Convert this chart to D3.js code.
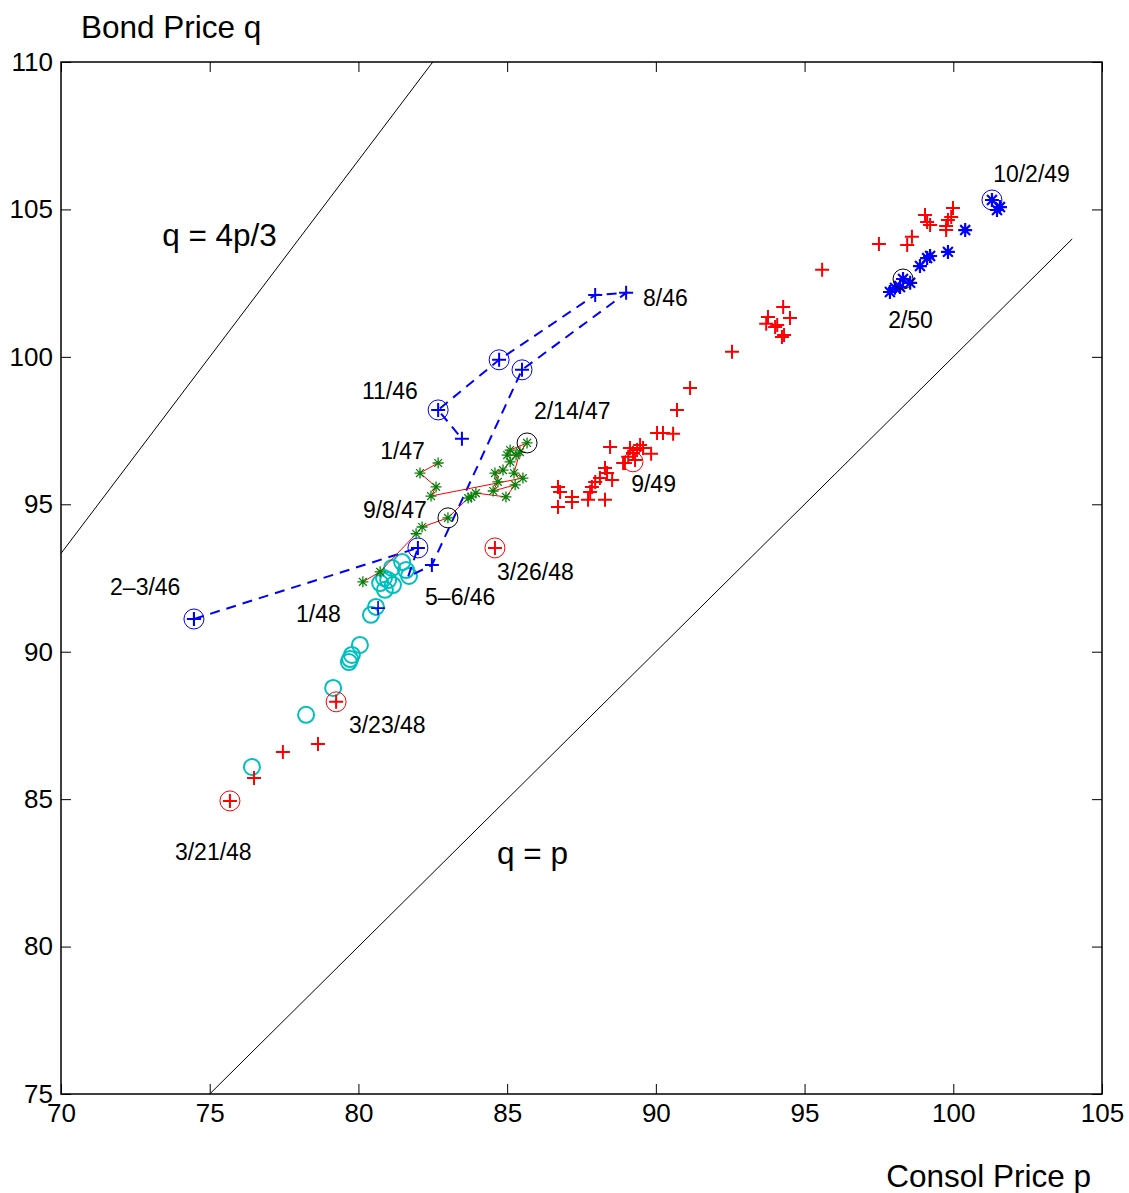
<!DOCTYPE html>
<html><head><meta charset="utf-8">
<script src="https://cdn.jsdelivr.net/npm/d3@7"></script>
<style>body{margin:0;background:#fff}text{font-family:"Liberation Sans",Arial,Helvetica,sans-serif}</style>
</head><body><svg id="c" width="1129" height="1193"></svg>
<script>
// ---- data (p = consol price, q = bond price) ----
const xTicks = [70,75,80,85,90,95,100,105];
const yTicks = [75,80,85,90,95,100,105,110];
// 1946: blue + with dashed line
const path1946 = [[74.47,91.11],[74.47,91.11],[82.00,93.52],[81.67,92.54],[82.47,92.94],[85.50,99.56],[89.00,102.17],[87.96,102.10],[84.73,99.90],[82.68,98.20],[83.48,97.22]];
const hidden1946 = [3]; // point obscured in the original (no visible marker)
const circled1946 = [[74.47,91.11],[82.00,93.52],[85.50,99.56],[84.73,99.90],[82.68,98.20]];
// 1947: green * with thin red line
const path1947 = [[82.68,96.40],[82.07,96.06],[82.61,95.59],[82.44,95.28],[85.53,95.89],[85.23,96.06],[85.43,96.77],[85.67,97.08],[85.10,96.84],[85.00,96.67],[85.30,96.67],[85.10,96.44],[84.86,96.16],[84.59,96.06],[84.69,95.76],[84.53,95.45],[85.27,95.66],[84.96,95.25],[83.95,95.38],[83.79,95.25],[83.69,95.21],[83.01,94.54],[82.14,94.23],[81.94,94.00],[80.73,92.71],[80.15,92.37]];
const circled1947 = [[85.67,97.08],[83.01,94.54]];
// 1948: cyan circles
const pts1948 = [[81.47,93.04],[81.13,92.84],[80.86,92.50],[80.73,92.33],[81.00,92.43],[80.89,92.10],[81.16,92.26],[81.60,92.77],[81.70,92.57],[80.59,91.52],[80.42,91.25],[80.05,90.23],[79.78,89.89],[79.72,89.75],[79.68,89.65],[79.15,88.77],[78.24,87.86],[76.42,86.09]];
const mark1948 = [[80.66,91.48]];
// 1948-49: red +
const redPlus = [[75.68,84.94],[76.49,85.72],[77.46,86.60],[78.64,86.87],[79.25,88.30],[84.59,93.52],
 [86.71,95.59],[86.78,95.42],[86.71,94.91],[87.18,95.25],[87.18,95.08],[87.72,95.15],[87.79,95.42],[87.85,95.59],[87.96,95.76],[88.12,95.89],[88.29,96.23],[88.36,96.06],[88.53,95.82],[88.29,95.15],
 [88.46,96.94],[88.96,96.40],[89.07,96.61],[89.23,96.74],[89.37,96.84],[89.13,96.91],[89.47,97.01],[89.57,96.91],[89.30,96.50],[89.84,96.71],[88.90,96.40],
 [90.04,97.42],[90.24,97.42],[90.58,97.39],[90.71,98.20],[91.15,98.94],[92.56,100.17],
 [93.71,101.12],[94.01,101.01],[94.08,101.08],[94.28,101.69],[94.31,100.74],[94.24,100.67],[94.51,101.32],[93.77,101.35],
 [95.59,102.95],[97.50,103.83],[98.45,103.79],[98.61,104.07],[99.05,104.81],[99.12,104.57],[99.22,104.47],[99.76,104.44],[99.82,104.64],[99.99,105.05],[99.93,104.74],[99.76,104.30]];
const circledRed = [[75.68,84.94],[79.25,88.30],[84.59,93.52],[89.23,96.44]];
// 1949-50: blue *
const blueStar = [[97.87,102.20],[98.04,102.34],[98.21,102.37],[98.31,102.64],[98.55,102.51],[98.88,103.08],[99.12,103.35],[99.22,103.42],[99.82,103.56],[100.40,104.30],[101.30,105.32],[101.47,104.98],[101.57,105.08]];
const circledBlueStar = [[101.30,105.32]];
const circledBlackStar = [[98.31,102.64]];
// reference lines
const lineQP = [[75,75],[104,104]];
const line43 = [[70,70*4/3],[82.5,110]];
// annotations [text, p, q]
const labels = [["10/2/49",101.34,105.93],["2/50",97.81,100.98],["8/46",89.57,101.73],["11/46",80.12,98.57],
 ["2/14/47",85.90,97.89],["1/47",80.73,96.54],["9/49",89.17,95.42],["9/8/47",80.15,94.54],["2\u20133/46",71.65,91.92],
 ["3/26/48",84.66,92.43],["5\u20136/46",82.24,91.59],["1/48",77.90,91.01],["3/23/48",79.68,87.24],["3/21/48",73.83,82.94]];
const bigLabels = [["q = 4p/3",73.40,103.76],["q = p",84.66,82.80]];

// ---- drawing ----
const svg = d3.select("#c");
const L=61,R=1102,T=62,B=1094;
const x = d3.scaleLinear().domain([70,105]).range([L,R]);
const y = d3.scaleLinear().domain([75,110]).range([B,T]);
const line = d3.line().x(d=>x(d[0])).y(d=>y(d[1]));

function axisStyle(g){ g.select(".domain").remove(); g.selectAll("line").attr("stroke","#000").attr("stroke-width",1);
  g.selectAll("text").attr("font-size",26).attr("fill","#000").attr("font-family","Liberation Sans, Arial, sans-serif"); }
svg.append("g").attr("transform",`translate(0,${B})`).call(d3.axisBottom(x).tickValues(xTicks).tickSize(-10).tickPadding(10).tickSizeOuter(0)).call(axisStyle);
svg.append("g").attr("transform",`translate(${L},0)`).call(d3.axisLeft(y).tickValues(yTicks).tickSize(-10).tickPadding(8).tickSizeOuter(0)).call(axisStyle);
svg.append("g").attr("transform",`translate(0,${T})`).call(d3.axisTop(x).tickValues(xTicks).tickSize(-10).tickFormat("").tickSizeOuter(0)).call(axisStyle);
svg.append("g").attr("transform",`translate(${R},0)`).call(d3.axisRight(y).tickValues(yTicks).tickSize(-10).tickFormat("").tickSizeOuter(0)).call(axisStyle);
svg.append("rect").attr("x",L).attr("y",T).attr("width",R-L).attr("height",B-T).attr("fill","none").attr("stroke","#000").attr("stroke-width",1.5);

svg.append("path").attr("d",line(lineQP)).attr("stroke","#000").attr("stroke-width",1).attr("fill","none");
svg.append("path").attr("d",line(line43)).attr("stroke","#000").attr("stroke-width",1).attr("fill","none");

const g = svg.append("g");
function plus(data,h,color,w){
  data.forEach(d=>{const cx=x(d[0]),cy=y(d[1]);
    g.append("path").attr("d",`M${cx-h},${cy}H${cx+h}M${cx},${cy-h}V${cy+h}`).attr("stroke",color).attr("stroke-width",w).attr("fill","none");});
}
function star(data,h,color,w){
  const k=h*0.7071;
  data.forEach(d=>{const cx=x(d[0]),cy=y(d[1]);
    g.append("path").attr("d",`M${cx-h},${cy}H${cx+h}M${cx},${cy-h}V${cy+h}M${cx-k},${cy-k}L${cx+k},${cy+k}M${cx-k},${cy+k}L${cx+k},${cy-k}`)
     .attr("stroke",color).attr("stroke-width",w).attr("fill","none");});
}
function circ(data,r,color,w){
  data.forEach(d=>g.append("circle").attr("cx",x(d[0])).attr("cy",y(d[1])).attr("r",r).attr("fill","none").attr("stroke",color).attr("stroke-width",w));
}

// 1948 cyan circles
circ(pts1948,8,"#00bfbf",2);
plus(mark1948,7,"#0000ff",1.6);
// 1946
g.append("path").attr("d",line(path1946)).attr("stroke","#0000ff").attr("stroke-width",2).attr("fill","none").attr("stroke-dasharray","10,7");
plus(path1946.filter((d,i)=>!hidden1946.includes(i)),7,"#0000ff",2);
circ(circled1946,10,"#0000ff",1);
// 1947
g.append("path").attr("d",line(path1947)).attr("stroke","#ff0000").attr("stroke-width",1).attr("fill","none");
star(path1947,5.5,"#0a800a",1.3);
circ(circled1947,10,"#000",1);
// red +
plus(redPlus,7,"#ff0000",2);
circ(circledRed,10,"#ff0000",1);
// blue *
star(blueStar,7,"#0000ff",2.2);
circ(circledBlueStar,10,"#0000ff",1);
circ(circledBlackStar,10,"#000",1);

// labels
labels.forEach(l=>svg.append("text").attr("x",x(l[1])).attr("y",y(l[2])).attr("font-size",23).attr("fill","#000").text(l[0]));
bigLabels.forEach(l=>svg.append("text").attr("x",x(l[1])).attr("y",y(l[2])).attr("font-size",31.5).attr("fill","#000").text(l[0]));
svg.append("text").attr("x",81).attr("y",38).attr("font-size",31.5).attr("fill","#000").text("Bond Price q");
svg.append("text").attr("x",1091).attr("y",1187).attr("text-anchor","end").attr("font-size",31.5).attr("fill","#000").text("Consol Price p");
</script></body></html>
